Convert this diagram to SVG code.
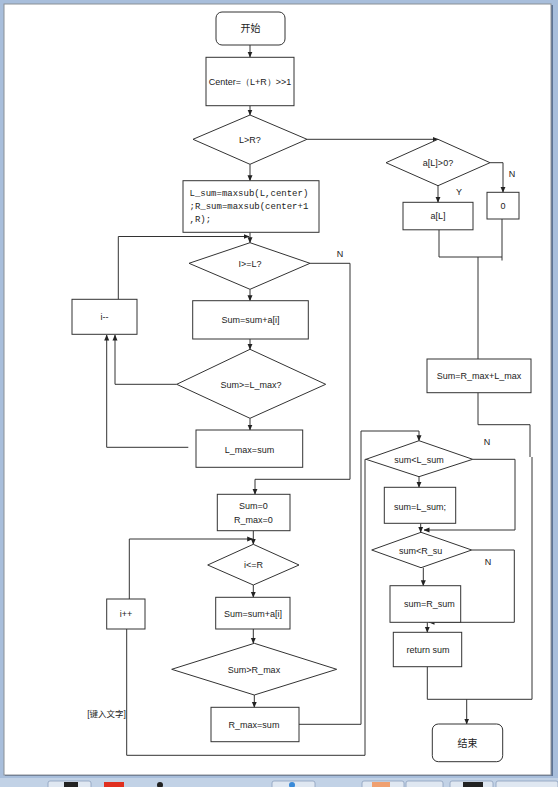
<svg xmlns="http://www.w3.org/2000/svg" width="558" height="787" viewBox="0 0 558 787">
<defs>
<marker id="ah" markerWidth="6" markerHeight="6" refX="5.5" refY="3" orient="auto" markerUnits="userSpaceOnUse">
<path d="M0,0.5 L6,3 L0,5.5 z" fill="#222"/>
</marker>
<style>
.n{fill:#fff;stroke:#333;stroke-width:1}
.t{font-family:"Liberation Sans","Open Sans",sans-serif;font-size:9px;fill:#222;text-anchor:middle;dominant-baseline:central}
.m{font-family:"Liberation Mono",monospace;font-size:9px;fill:#222;dominant-baseline:central}
.c{font-family:"Liberation Sans","Noto Sans CJK SC",sans-serif;font-size:10px;fill:#222;text-anchor:middle;dominant-baseline:central}
.k{fill:none;stroke:#333;stroke-width:1}
.a{marker-end:url(#ah)}
</style>
</defs>
<g id="frame">
<rect x="0" y="0" width="558" height="787" fill="#a8bedb"/>
<rect x="5" y="5" width="548" height="771" fill="#5d7394"/>
<rect x="4" y="4" width="547" height="771" fill="#fff" stroke="#8a8f96"/>
<rect x="0" y="778" width="558" height="9" fill="#c2d2e6"/>
<g fill="#dfe7f1" stroke="#8aa0bd" stroke-width="0.8">
<rect x="48" y="781" width="43" height="8" rx="2"/>
<rect x="272" y="781" width="43" height="8" rx="2"/>
<rect x="362" y="781" width="42" height="8" rx="2"/>
<rect x="406" y="781" width="37" height="8" rx="2"/>
<rect x="450" y="781" width="43" height="8" rx="2"/>
<rect x="496" y="781" width="62" height="8" rx="2"/>
</g>
<rect x="64" y="782" width="14" height="6" fill="#222"/>
<rect x="104" y="782" width="20" height="6" fill="#e03020"/>
<circle cx="160" cy="785" r="3" fill="#222"/>
<circle cx="292" cy="785" r="3" fill="#3a8ad8"/>
<rect x="372" y="782" width="18" height="6" fill="#f0a070"/>
<rect x="463" y="782" width="20" height="6" fill="#222"/>
</g>
<g id="connectors">
<path class="k a" d="M250,45 V57"/>
<path class="k a" d="M250,105.7 V115"/>
<path class="k a" d="M250,164.3 V180.7"/>
<path class="k a" d="M307,139.3 H438"/>
<path class="k a" d="M438,185.7 V202.3"/>
<path class="k a" d="M490,162.7 H503 V192.3"/>
<path class="k" d="M439,229.5 V257 M502,219 V260.5 M439,257 H502 M478,257 V359"/>
<path class="k" d="M478,392.7 V424.7 H530 V457 M532,457 V699.3 H427.3 M427.3,666.7 V699.3"/>
<path class="k a" d="M466.7,699.3 V724"/>
<path class="k a" d="M250,232.3 V242.7"/>
<path class="k a" d="M118.3,299.3 V236.5 H249"/>
<path class="k a" d="M250,289.3 V300.7"/>
<path class="k a" d="M250,339 V349.3"/>
<path class="k a" d="M250,418.3 V430"/>
<path class="k a" d="M176.7,384.3 H115 V335"/>
<path class="k a" d="M188.3,447.3 H106.7 V335"/>
<path class="k a" d="M310,263.3 H350 V479.3 H255 V494.3"/>
<path class="k a" d="M253.3,530.7 V544.3"/>
<path class="k a" d="M129.3,599 V539 H252.7"/>
<path class="k a" d="M253.3,585 V597.3"/>
<path class="k a" d="M253.3,629 V643.3"/>
<path class="k a" d="M254.3,695 V707.3"/>
<path class="k a" d="M299,724.3 H361 V431 H419 V440.7"/>
<path class="k" d="M126.7,629 V755.3 H365 V459.3 H366"/>
<path class="k a" d="M419,476.7 V487.3"/>
<path class="k a" d="M472.7,459.3 H515 V530 H424"/>
<path class="k a" d="M420.7,523.3 V532.3"/>
<path class="k a" d="M471.7,550 H514.3 V622.3 H429"/>
<path class="k a" d="M423.3,567.7 V585.7"/>
<path class="k a" d="M427.3,622.3 V632.3"/>
<text class="t" x="340" y="254">N</text>
<text class="t" x="512" y="174">N</text>
<text class="t" x="459" y="192">Y</text>
<text class="t" x="487" y="442">N</text>
<text class="t" x="488" y="562">N</text>
</g>
<g id="start"><rect class="n" x="216" y="12" width="69" height="33" rx="6"/><text class="c" x="250.5" y="28.5">开始</text></g>
<g id="center"><rect class="n" x="206" y="57.3" width="88" height="48.4"/><text class="t" x="250" y="81.7">Center=（L+R）&gt;&gt;1</text></g>
<g id="lgtr"><polygon class="n" points="250,115 307,139.3 250,164.3 193,139.3"/><text class="t" x="250" y="139.5">L&gt;R?</text></g>
<g id="al0"><polygon class="n" points="438,139.3 490,162.7 438,185.7 386,162.7"/><text class="t" x="438" y="162.5">a[L]&gt;0?</text></g>
<g id="aL"><rect class="n" x="403" y="202.3" width="70" height="27.5"/><text class="t" x="438" y="216">a[L]</text></g>
<g id="zero"><rect class="n" x="487" y="192.3" width="32" height="26.7"/><text class="t" x="503" y="205.5">0</text></g>
<g id="lsum"><rect class="n" x="183" y="180.7" width="136" height="51.6"/>
<text class="m" x="189.5" y="194">L_sum=maxsub(L,center)</text>
<text class="m" x="189.5" y="207">;R_sum=maxsub(center+1</text>
<text class="m" x="189.5" y="220">,R);</text></g>
<g id="sumRL"><rect class="n" x="427" y="359" width="104" height="33.7"/><text class="t" x="479" y="376">Sum=R_max+L_max</text></g>
<g id="igeL"><polygon class="n" points="250,242.7 310,263.3 250,289.3 189,263.3"/><text class="t" x="250" y="264">I&gt;=L?</text></g>
<g id="idec"><rect class="n" x="72" y="299.3" width="65" height="35"/><text class="t" x="104.5" y="317">i--</text></g>
<g id="sumadd1"><rect class="n" x="192.7" y="300.7" width="115.6" height="38.3"/><text class="t" x="250.5" y="320">Sum=sum+a[i]</text></g>
<g id="sgeL"><polygon class="n" points="250,349.3 325.7,384.3 250,418.3 176.7,384.3"/><text class="t" x="251" y="384.5">Sum&gt;=L_max?</text></g>
<g id="lmax"><rect class="n" x="196" y="430" width="106.7" height="37.3"/><text class="t" x="249.5" y="450">L_max=sum</text></g>
<g id="init"><rect class="n" x="217.3" y="494.3" width="72.7" height="36.4"/><text class="t" x="253.5" y="506">Sum=0</text><text class="t" x="253.5" y="520">R_max=0</text></g>
<g id="ileR"><polygon class="n" points="253.3,544.3 299,565 253.3,585 207.7,565"/><text class="t" x="253.5" y="565">i&lt;=R</text></g>
<g id="iinc"><rect class="n" x="106.7" y="599" width="38.3" height="30"/><text class="t" x="126" y="614">i++</text></g>
<g id="sumadd2"><rect class="n" x="215.7" y="597.3" width="74.3" height="31.7"/><text class="t" x="253" y="614">Sum=sum+a[i]</text></g>
<g id="sgtR"><polygon class="n" points="254.3,643.3 336.7,669.3 254.3,695 171.7,669.3"/><text class="t" x="254" y="669.5">Sum&gt;R_max</text></g>
<g id="rmax"><rect class="n" x="211" y="707.3" width="88" height="34.4"/><text class="t" x="254" y="725">R_max=sum</text></g>
<g id="note"><text class="t" x="106.5" y="714.3" style="font-size:8.5px;font-family:'Liberation Sans','Noto Sans CJK SC',sans-serif">[键入文字]</text></g>
<g id="sltL"><polygon class="n" points="419,440.7 472.7,459.3 419,476.7 366,459.3"/><text class="t" x="419" y="459.5">sum&lt;L_sum</text></g>
<g id="setL"><rect class="n" x="384.3" y="487.3" width="71.4" height="36"/><text class="t" x="420" y="506.5">sum=L_sum;</text></g>
<g id="sltR"><polygon class="n" points="421,532.3 471.7,550 421,567.7 371.7,550"/><text class="t" x="420.7" y="550.7">sum&lt;R_su</text></g>
<g id="setR"><rect class="n" x="390" y="585.7" width="70.7" height="36.6"/><text class="t" x="429.3" y="604.3">sum=R_sum</text></g>
<g id="ret"><rect class="n" x="393.3" y="632.3" width="68.4" height="34.4"/><text class="t" x="428" y="649.5">return sum</text></g>
<g id="end"><rect class="n" x="432.3" y="724" width="70.4" height="37.7" rx="6"/><text class="c" x="467.5" y="743">结束</text></g>
</svg>
